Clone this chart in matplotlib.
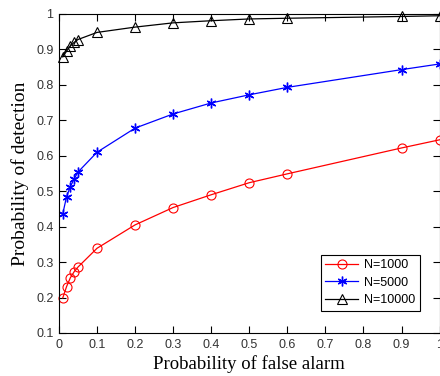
import matplotlib
matplotlib.use('Agg')
import matplotlib.pyplot as plt

# probability of false alarm
pfa = [0.01, 0.02, 0.03, 0.04, 0.05, 0.1, 0.2, 0.3, 0.4, 0.5, 0.6, 0.9, 1.0]
# probability of detection per N
pd_1000 = [0.199, 0.231, 0.256, 0.273, 0.286, 0.339, 0.405, 0.454, 0.490, 0.524, 0.549, 0.622, 0.645]
pd_5000 = [0.436, 0.485, 0.513, 0.535, 0.554, 0.610, 0.678, 0.718, 0.749, 0.772, 0.793, 0.843, 0.859]
pd_10000 = [0.879, 0.895, 0.910, 0.920, 0.928, 0.948, 0.963, 0.975, 0.981, 0.986, 0.988, 0.993, 0.995]

fig = plt.figure(figsize=(4.4, 3.76), dpi=100)
ax = fig.add_axes([0.134, 0.1144, 0.865, 0.8484])

ax.plot(pfa, pd_1000, color='r', marker='o', markersize=6.5, markerfacecolor='none',
        markeredgewidth=0.8, linewidth=0.9, label='N=1000', clip_on=False)
ax.plot(pfa, pd_5000, color='b', marker=(6, 2, 0), markersize=7,
        markeredgewidth=1.0, linewidth=0.9, label='N=5000', clip_on=False)
ax.plot(pfa, pd_10000, color='k', marker='^', markersize=6.5, markerfacecolor='none',
        markeredgewidth=0.8, linewidth=0.9, label='N=10000', clip_on=False)

ax.set_xlim(0, 1)
ax.set_ylim(0.1, 1)
ax.set_xticks([i / 10 for i in range(11)])
ax.set_xticklabels(['0', '0.1', '0.2', '0.3', '0.4', '0.5', '0.6', '0.7', '0.8', '0.9', '1'])
ax.set_yticks([i / 10 for i in range(1, 11)])
ax.set_yticklabels(['0.1', '0.2', '0.3', '0.4', '0.5', '0.6', '0.7', '0.8', '0.9', '1'])
ax.tick_params(direction='in', top=True, right=True, length=5, width=0.8,
               labelsize=9, labelcolor='#333333', pad=4)
for lab in ax.get_xticklabels() + ax.get_yticklabels():
    lab.set_family('Liberation Sans')
for s in ax.spines.values():
    s.set_linewidth(0.8)

ax.set_xlabel('Probability of false alarm', family='Liberation Serif', fontsize=13.5, labelpad=3)
ax.set_ylabel('Probability of detection', family='Liberation Serif', fontsize=14, labelpad=5)

leg = ax.legend(loc='lower right', bbox_to_anchor=(0.948, 0.07), fancybox=False,
                edgecolor='k', framealpha=1, prop={'family': 'Liberation Sans', 'size': 9},
                handlelength=2.6, borderpad=0.35, labelspacing=0.45, handletextpad=0.5,
                borderaxespad=0)
leg.get_frame().set_linewidth(0.8)

plt.savefig('out.png', dpi=100)
